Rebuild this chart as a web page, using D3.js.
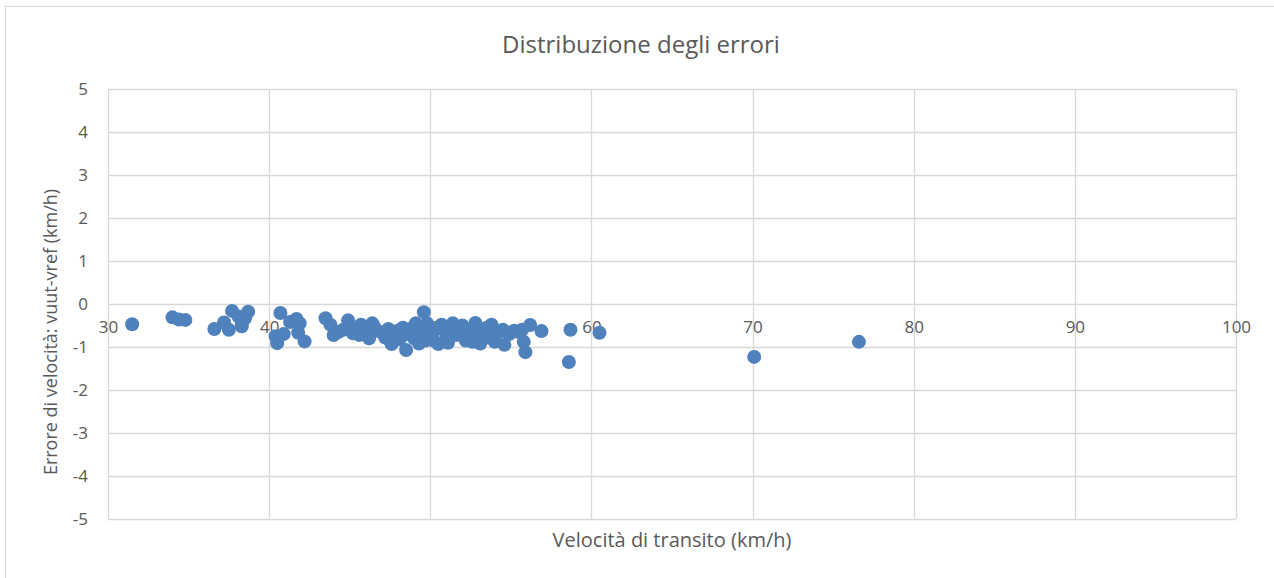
<!DOCTYPE html>
<html><head><meta charset="utf-8">
<script src="https://cdn.jsdelivr.net/npm/d3@7"></script>
<style>body{margin:0;background:#fff;} text{font-family:"Open Sans","Noto Sans",sans-serif;fill:#595959;}</style>
</head><body>
<svg id="c" width="1274" height="578"></svg>
<script>
const title = "Distribuzione degli errori";
const xTitle = "Velocità di transito (km/h)";
const yTitle = "Errore di velocità: vuut-vref  (km/h)";
const xTicks = [30,40,50,60,70,80,90,100];
const yTicks = [5,4,3,2,1,0,-1,-2,-3,-4,-5];
const speed = [31.5,34.0,34.4,34.8,36.6,37.2,37.5,37.7,38.1,38.3,38.3,38.5,38.7,40.4,40.5,40.7,40.9,41.3,41.7,41.8,41.9,42.2,43.5,43.8,44.0,44.3,44.6,44.9,45.0,45.3,45.6,45.7,46.0,46.2,46.4,46.7,47.0,47.2,47.4,47.6,47.8,48.0,48.1,48.3,48.5,48.6,48.8,49.0,49.1,49.3,49.4,49.6,49.8,50.0,50.2,50.5,50.7,50.9,51.1,51.3,51.4,51.6,51.8,52.0,52.2,52.4,52.6,52.8,53.0,53.1,53.3,53.6,53.8,54.0,54.2,54.5,54.6,54.9,55.2,55.5,55.8,55.9,55.7,56.2,56.9,58.7,58.6,60.5,70.1,76.6,45.2,46.5,47.5,48.9,50.3,51.0,52.3,53.5,49.7,47.9];
const errore = [-0.47,-0.31,-0.36,-0.37,-0.58,-0.43,-0.60,-0.16,-0.29,-0.46,-0.52,-0.33,-0.18,-0.75,-0.91,-0.21,-0.70,-0.42,-0.35,-0.67,-0.45,-0.87,-0.33,-0.48,-0.72,-0.65,-0.60,-0.38,-0.55,-0.62,-0.72,-0.48,-0.60,-0.80,-0.45,-0.62,-0.66,-0.78,-0.58,-0.93,-0.70,-0.62,-0.82,-0.55,-1.07,-0.70,-0.60,-0.80,-0.45,-0.92,-0.65,-0.19,-0.45,-0.70,-0.85,-0.93,-0.48,-0.62,-0.90,-0.55,-0.45,-0.72,-0.58,-0.50,-0.85,-0.65,-0.88,-0.44,-0.70,-0.92,-0.62,-0.78,-0.48,-0.88,-0.66,-0.60,-0.95,-0.70,-0.62,-0.65,-0.88,-1.12,-0.60,-0.49,-0.63,-0.60,-1.35,-0.67,-1.23,-0.88,-0.68,-0.52,-0.85,-0.55,-0.60,-0.78,-0.75,-0.55,-0.85,-0.68];

const svg = d3.select("#c");
const grid = "#d9d9d9";
svg.append("rect").attr("x",5.5).attr("y",6.5).attr("width",1290).attr("height",600).attr("fill","none").attr("stroke",grid);

const x = d3.scaleLinear().domain([30,100]).range([108,1236]);
const y = d3.scaleLinear().domain([-5,5]).range([519,89]);

const g = svg.append("g");
g.selectAll(".hg").data(yTicks).join("line")
  .attr("x1",x(30)).attr("x2",x(100)).attr("y1",d=>Math.round(y(d))+0.5).attr("y2",d=>Math.round(y(d))+0.5)
  .attr("stroke",grid).attr("stroke-width",1.3);
g.selectAll(".vg").data(xTicks).join("line")
  .attr("y1",y(5)).attr("y2",y(-5)).attr("x1",d=>Math.round(x(d))+0.5).attr("x2",d=>Math.round(x(d))+0.5)
  .attr("stroke",grid).attr("stroke-width",1.3);

const fam = '"Open Sans","Noto Sans",sans-serif';
// y axis labels
const yAxis = d3.axisLeft(y).tickValues(yTicks).tickSize(0).tickPadding(0).tickFormat(d=>String(d));
const ya = svg.append("g").attr("transform","translate(88,0)").call(yAxis);
ya.select(".domain").remove();
ya.selectAll("text").style("font-size","17px").attr("fill","#595959").style("font-family",fam);

// x axis labels at y=0
const xAxis = d3.axisBottom(x).tickValues(xTicks).tickSize(0).tickPadding(0).tickFormat(d=>String(d));
const xa = svg.append("g").attr("transform",`translate(0,${y(0)+17})`).call(xAxis);
xa.select(".domain").remove();
xa.selectAll("text").style("font-size","17px").attr("fill","#595959").style("font-family",fam);

// points
svg.append("g").selectAll("circle").data(speed.map((s,i)=>[s,errore[i]])).join("circle")
  .attr("cx",d=>x(d[0])).attr("cy",d=>y(d[1])).attr("r",7).attr("fill","#4f81bd");

svg.append("text").attr("x",641).attr("y",53).attr("text-anchor","middle").style("font-size","24px").text(title);
svg.append("text").attr("x",672).attr("y",547).attr("text-anchor","middle").style("font-size","20px").text(xTitle);
svg.append("text").attr("transform","translate(57,332) rotate(-90)").attr("text-anchor","middle").style("font-size","18px").text(yTitle);
</script>
</body></html>
